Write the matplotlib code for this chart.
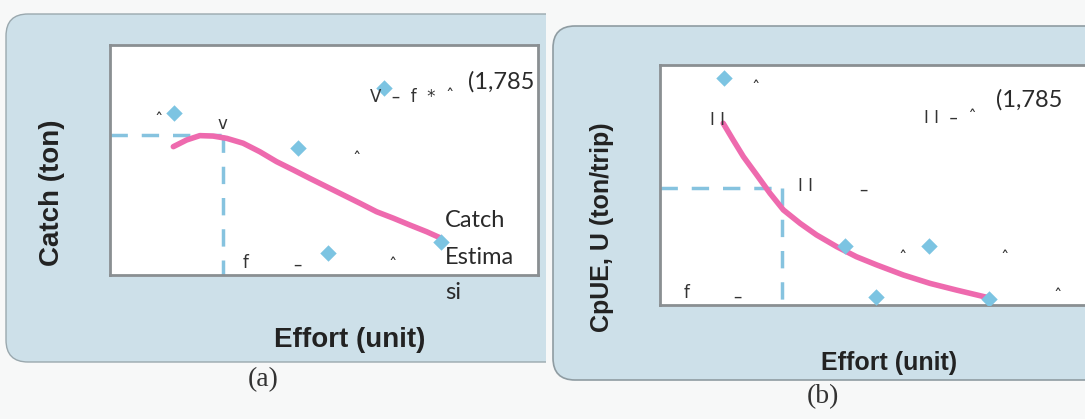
import numpy as np
import matplotlib.pyplot as plt
from matplotlib.patches import FancyBboxPatch, Rectangle

W, H = 1085, 419

# panel (a): catch vs effort
eff_a = [15.0, 64.0, 43.9, 50.9, 77.3]
catch_a = [70.4, 81.3, 55.2, 9.6, 14.3]
curve_eff_a = [14.8, 17.9, 21.0, 24.1, 27.3, 31.1, 35.0, 38.9, 42.8, 46.7,
               50.6, 54.5, 58.4, 62.3, 66.2, 70.1, 74.0, 77.1]
curve_catch_a = [55.8, 58.7, 60.6, 60.4, 59.4, 57.3, 53.6, 49.3, 45.7, 42.0,
                 38.4, 34.8, 31.2, 27.5, 24.7, 21.7, 18.8, 16.2]
fmsy_a = 26.3
msy_a = 60.9

# panel (b): CpUE vs effort
eff_b = [14.9, 43.0, 62.6, 50.2, 76.5]
cpue_b = [94.6, 24.6, 24.6, 3.3, 2.5]
curve_eff_b = [14.7, 17.0, 19.4, 22.5, 25.6, 28.7, 32.6, 36.4, 41.1, 45.7,
               50.4, 56.6, 62.8, 69.0, 76.0]
curve_cpue_b = [75.7, 68.8, 61.8, 54.2, 46.5, 39.6, 34.0, 29.2, 24.3, 20.1,
                16.7, 12.5, 9.0, 6.2, 3.2]
fmsy_b = 28.3
umsy_b = 48.6

PANEL_BG = '#cde0e9'
MARKER = '#7cc4e2'
PINK = '#ee6aae'
DASH = '#86c3df'


def box(x0, y0, x1, y1):
    # pixel box -> figure fraction rect
    return [x0 / W, 1 - y1 / H, (x1 - x0) / W, (y1 - y0) / H]


def fx(x, y):
    return x / W, 1 - y / H


fig = plt.figure(figsize=(W / 100, H / 100), dpi=100)
fig.patch.set_facecolor('#f7f8f8')

bg = fig.add_axes([0, 0, 1, 1])
bg.set_xlim(0, W)
bg.set_ylim(H, 0)
bg.axis('off')
pa = FancyBboxPatch((6, 14), 600, 348, boxstyle='round,pad=0,rounding_size=22',
                    fc=PANEL_BG, ec='#9aa8ae', lw=1.0)
bg.add_patch(pa)
pa.set_clip_path(Rectangle((0, 0), 546, H, transform=bg.transData))
pb = FancyBboxPatch((553, 26), 600, 354, boxstyle='round,pad=0,rounding_size=22',
                    fc=PANEL_BG, ec='#8f9ca2', lw=1.2)
bg.add_patch(pb)


def panel(rect, xs, ys, cx, cy, vx, hy):
    ax = fig.add_axes(rect)
    ax.set_facecolor('white')
    ax.set_xlim(0, 100)
    ax.set_ylim(0, 100)
    ax.set_xticks([])
    ax.set_yticks([])
    for s in ax.spines.values():
        s.set_color('#8a8f92')
        s.set_linewidth(2)
    ax.plot([0, vx], [hy, hy], ls=(0, (5, 4)), color=DASH, lw=2.5, zorder=2)
    ax.plot([vx, vx], [hy, 0], ls=(0, (5, 4)), color=DASH, lw=2.5, zorder=2)
    ax.plot(cx, cy, color=PINK, lw=4, solid_capstyle='round',
            solid_joinstyle='round', zorder=3)
    ax.scatter(xs, ys, marker='D', s=70, color=MARKER, zorder=4, linewidths=0)
    return ax

ax1 = panel(box(110, 45, 538, 275), eff_a, catch_a, curve_eff_a, curve_catch_a, fmsy_a, msy_a)
ax2 = panel(box(660, 65, 1090, 305), eff_b, cpue_b, curve_eff_b, curve_cpue_b, fmsy_b, umsy_b)

lab = dict(family='Liberation Sans', weight='bold', color='#222222')
fig.text(*fx(52, 193), 'Catch (ton)', rotation=90, ha='center', va='center', fontsize=20, **lab)
fig.text(*fx(350, 340), 'Effort (unit)', ha='center', va='center', fontsize=20, **lab)
fig.text(*fx(602, 227), 'CpUE, U (ton/trip)', rotation=90, ha='center', va='center', fontsize=18, **lab)
fig.text(*fx(889, 363), 'Effort (unit)', ha='center', va='center', fontsize=18, **lab)

cap = dict(family='Liberation Serif', fontsize=20, color='#333333', ha='center', va='center')
fig.text(*fx(263, 380), '(a)', **cap)
fig.text(*fx(823, 397), '(b)', **cap)

note = dict(family='Lato', fontsize=17, color='#2a2a2a', ha='left', va='center')
fig.text(*fx(468, 82), '(1,785', **note)
fig.text(*fx(445, 220), 'Catch', **note)
fig.text(*fx(445, 257), 'Estima', **note)
fig.text(*fx(445, 292), 'si', **note)
fig.text(*fx(996, 100), '(1,785', **note)

# scan fragments of cut-off equation text
frag = dict(family='DejaVu Sans', fontsize=12, color='#333333', ha='center', va='center')
fig.text(*fx(412, 97), 'V  –  f  *  ˆ', **frag)
fig.text(*fx(159, 121), 'ˆ', **frag)
fig.text(*fx(222, 124), 'v', **frag)
fig.text(*fx(357, 160), 'ˆ', **frag)
fig.text(*fx(246, 263), 'f', **frag)
fig.text(*fx(297, 265), '–', **frag)
fig.text(*fx(393, 266), 'ˆ', **frag)
fig.text(*fx(756, 89), 'ˆ', **frag)
fig.text(*fx(718, 120), 'I I', **frag)
fig.text(*fx(950, 118), 'I I  –  ˆ', **frag)
fig.text(*fx(806, 186), 'I I', **frag)
fig.text(*fx(863, 190), '–', **frag)
fig.text(*fx(903, 259), 'ˆ', **frag)
fig.text(*fx(1005, 259), 'ˆ', **frag)
fig.text(*fx(687, 293), 'f', **frag)
fig.text(*fx(737, 297), '–', **frag)
fig.text(*fx(1058, 297), 'ˆ', **frag)

fig.savefig('out.png', dpi=100, facecolor=fig.get_facecolor())
